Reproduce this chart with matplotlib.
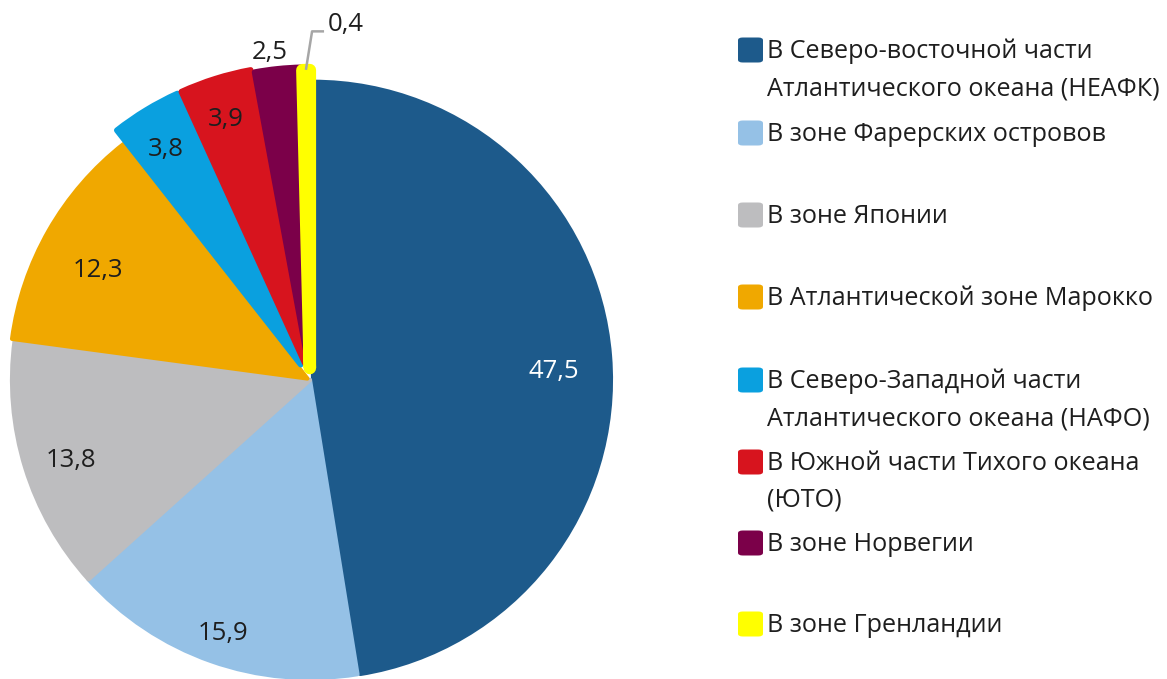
import matplotlib.pyplot as plt
import numpy as np
from matplotlib.patches import FancyBboxPatch

plt.rcParams['font.family'] = ['Open Sans', 'DejaVu Sans']

# data
categories = [
    'В Северо-восточной части\nАтлантического океана (НЕАФК)',
    'В зоне Фарерских островов',
    'В зоне Японии',
    'В Атлантической зоне Марокко',
    'В Северо-Западной части\nАтлантического океана (НАФО)',
    'В Южной части Тихого океана\n(ЮТО)',
    'В зоне Норвегии',
    'В зоне Гренландии',
]
values = [47.5, 15.9, 13.8, 12.3, 3.8, 3.9, 2.5, 0.4]
colors = ['#1d5a8b', '#95c1e6', '#bdbdbf', '#f0a800', '#0aa0df', '#d7141e', '#7b0049', '#ffff00']
explode = [0.01, 0.0, 0.0, 0.01, 0.06, 0.06, 0.05, 0.04]
edge_w = [3, 3, 3, 3, 4, 4, 4, 9]
# label placement: (distance from centre, angle shift in degrees)
label_pos = [(0.82, -1), (0.88, 0), (0.84, 0), (0.81, 1), (0.93, 0), (0.94, 0), (1.13, 1), None]
text_dark = '#1e1e1e'

W, H = 1167, 679
fig = plt.figure(figsize=(W / 100, H / 100), dpi=100)

# pie axes: centre at (310, 380) px, radius 298 px, limits +-1.1
cx, cy, r_px = 310, 380, 298
half = 1.1 * r_px
ax = fig.add_axes([(cx - half) / W, (H - cy - half) / H, 2 * half / W, 2 * half / H])

wedges, _ = ax.pie(values, colors=colors, explode=explode, startangle=90,
                   counterclock=False, radius=1.0,
                   wedgeprops=dict(joinstyle='round'))
ax.set_xlim(-1.1, 1.1)
ax.set_ylim(-1.1, 1.1)
ax.axis('off')
for w, c, lw in zip(wedges, colors, edge_w):
    w.set_edgecolor(c)
    w.set_linewidth(lw)
    w.set_clip_on(False)

for i, (w, v) in enumerate(zip(wedges, values)):
    th = np.deg2rad((w.theta1 + w.theta2) / 2)
    lbl = f'{v:.1f}'.replace('.', ',')
    if label_pos[i] is None:
        # leader line for the thinnest slice
        ex = explode[i]
        tip = ((1.0 + ex) * np.cos(th), (1.0 + ex) * np.sin(th) + 0.005)
        elbow = (tip[0] + 0.02, tip[1] + 0.125)
        end = (elbow[0] + 0.036, elbow[1])
        ax.plot([tip[0], elbow[0], end[0]], [tip[1], elbow[1], end[1]],
                color='#a6a6a6', lw=1.8, clip_on=False)
        ax.text(end[0] + 0.015, end[1] + 0.0, lbl, ha='left', va='baseline',
                fontsize=18.5, color=text_dark, clip_on=False)
        continue
    d, shift = label_pos[i]
    th += np.deg2rad(shift)
    col = 'white' if i == 0 else text_dark
    ax.text(d * np.cos(th), d * np.sin(th) - 0.022, lbl, ha='center', va='center',
            fontsize=18.5, color=col)

# legend drawn by hand
leg_y = [50, 133, 215, 297, 380, 462, 543, 624]
for c, name, y in zip(colors, categories, leg_y):
    box = FancyBboxPatch((738 / W, (H - y - 12.5) / H), 25 / W, 25 / H,
                         boxstyle='round,pad=0,rounding_size=0.004',
                         transform=fig.transFigure, facecolor=c, edgecolor='none')
    fig.patches.append(box)
    fig.text(767 / W, (H - y + 11) / H, name, ha='left', va='top', fontsize=18.1,
             color=text_dark, linespacing=1.62)

fig.savefig('out.png', dpi=100, facecolor='white')
